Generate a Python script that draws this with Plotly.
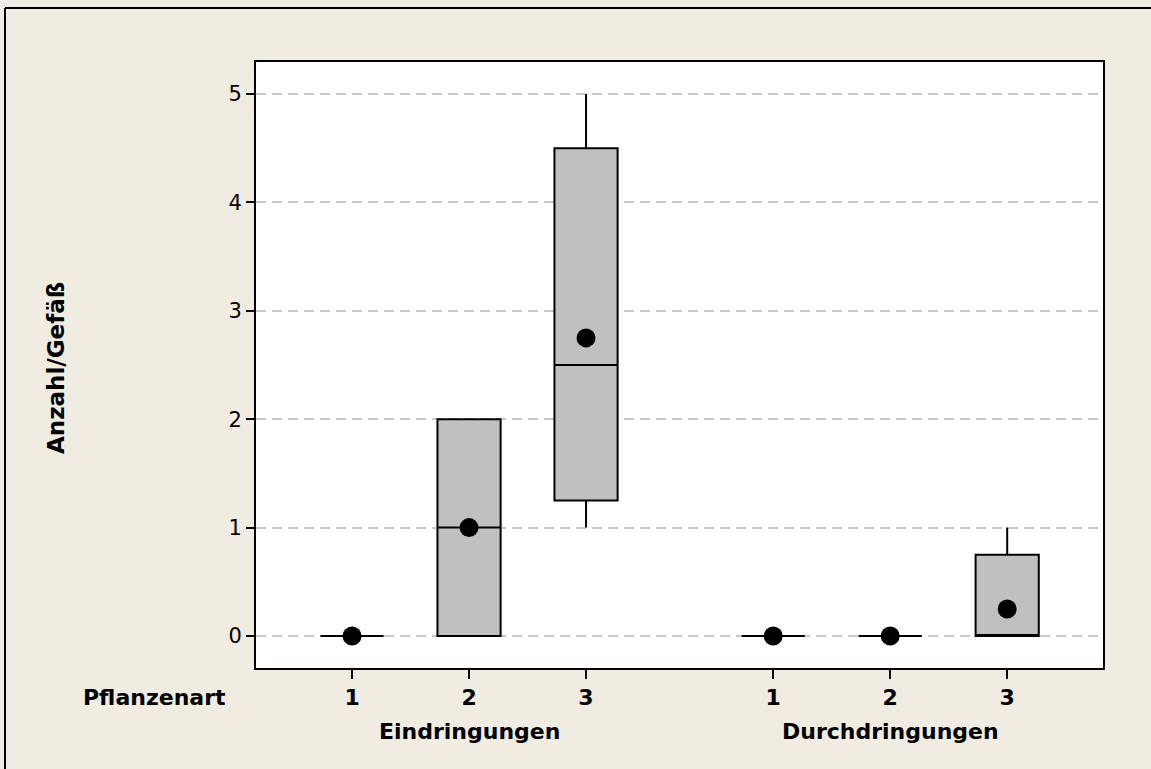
import plotly.graph_objects as go

# ---- data ----
groups = ["Eindringungen", "Eindringungen", "Eindringungen",
          "Durchdringungen", "Durchdringungen", "Durchdringungen"]
pflanzenart = ["1", "2", "3", "1", "2", "3"]
positions = [1, 2, 3, 4.6, 5.6, 6.6]
q1 = [0, 0, 1.25, 0, 0, 0]
median = [0, 1, 2.5, 0, 0, 0]
q3 = [0, 2, 4.5, 0, 0, 0.75]
lower_whisker = [0, 0, 1, 0, 0, 0]
upper_whisker = [0, 2, 5, 0, 0, 1]
means = [0, 1, 2.75, 0, 0, 0.25]
y_ticks = [0, 1, 2, 3, 4, 5]

W, H = 1151, 769
L, R, T, B = 256, 48, 62, 101
pw, ph = W - L - R, H - T - B

def px_x(p):
    return (p - L) / pw

def px_y(p):
    return (H - B - p) / ph

FONT = "DejaVu Sans, Verdana, sans-serif"

fig = go.Figure()
for i in range(len(positions)):
    fig.add_trace(go.Box(
        x=[positions[i]], q1=[q1[i]], median=[median[i]], q3=[q3[i]],
        lowerfence=[lower_whisker[i]], upperfence=[upper_whisker[i]],
        width=0.54, boxpoints=False, fillcolor="#C0C0C0",
        line=dict(color="black", width=2), whiskerwidth=0,
        showlegend=False, hoverinfo="skip"))

fig.add_trace(go.Scatter(
    x=positions, y=means, mode="markers",
    marker=dict(color="black", size=19), showlegend=False, hoverinfo="skip"))

fig.update_layout(
    width=W, height=H,
    margin=dict(l=L, r=R, t=T, b=B, pad=0),
    paper_bgcolor="#F0ECE1", plot_bgcolor="white",
    font=dict(family=FONT, color="black"),
    xaxis=dict(range=[0.179, 7.419], tickmode="array", tickvals=positions,
               ticktext=["<b>%s</b>" % t for t in pflanzenart],
               tickfont=dict(size=22, family=FONT), ticks="outside", ticklen=9,
               tickwidth=2, tickcolor="black", showgrid=False, zeroline=False,
               showline=True, linecolor="black", linewidth=2, mirror=True),
    yaxis=dict(range=[-0.295, 5.295], tickmode="array", tickvals=y_ticks,
               tickfont=dict(size=21, family=FONT), ticks="outside", ticklen=8,
               tickwidth=2, tickcolor="black", showgrid=True,
               gridcolor="#C8C8C8", gridwidth=1.5, griddash="10px,6px",
               zeroline=False, showline=True, linecolor="black", linewidth=2,
               mirror=True),
)

# group labels
group_names = ["Eindringungen", "Durchdringungen"]
group_centers = [sum(positions[0:3]) / 3, sum(positions[3:6]) / 3]
for name, cx in zip(group_names, group_centers):
    fig.add_annotation(x=cx, xref="x", y=px_y(731), yref="paper",
                       text="<b>%s</b>" % name, showarrow=False,
                       font=dict(size=22, family=FONT), xanchor="center",
                       yanchor="middle")

fig.add_annotation(x=px_x(228), xref="paper", y=px_y(697), yref="paper",
                   text="<b>Pflanzenart</b>", showarrow=False,
                   font=dict(size=22, family=FONT), xanchor="right",
                   yanchor="middle")

fig.add_annotation(x=px_x(56), xref="paper", y=px_y(368), yref="paper",
                   text="<b>Anzahl/Gefäß</b>", showarrow=False, textangle=-90,
                   font=dict(size=23, family=FONT), xanchor="center",
                   yanchor="middle")

# outer frame (left and top edges visible)
fig.add_shape(type="line", xref="paper", yref="paper",
              x0=px_x(5), x1=px_x(5), y0=px_y(8), y1=px_y(800),
              line=dict(color="black", width=2))
fig.add_shape(type="line", xref="paper", yref="paper",
              x0=px_x(5), x1=px_x(1200), y0=px_y(8), y1=px_y(8),
              line=dict(color="black", width=2))

fig.write_html("out.html")
